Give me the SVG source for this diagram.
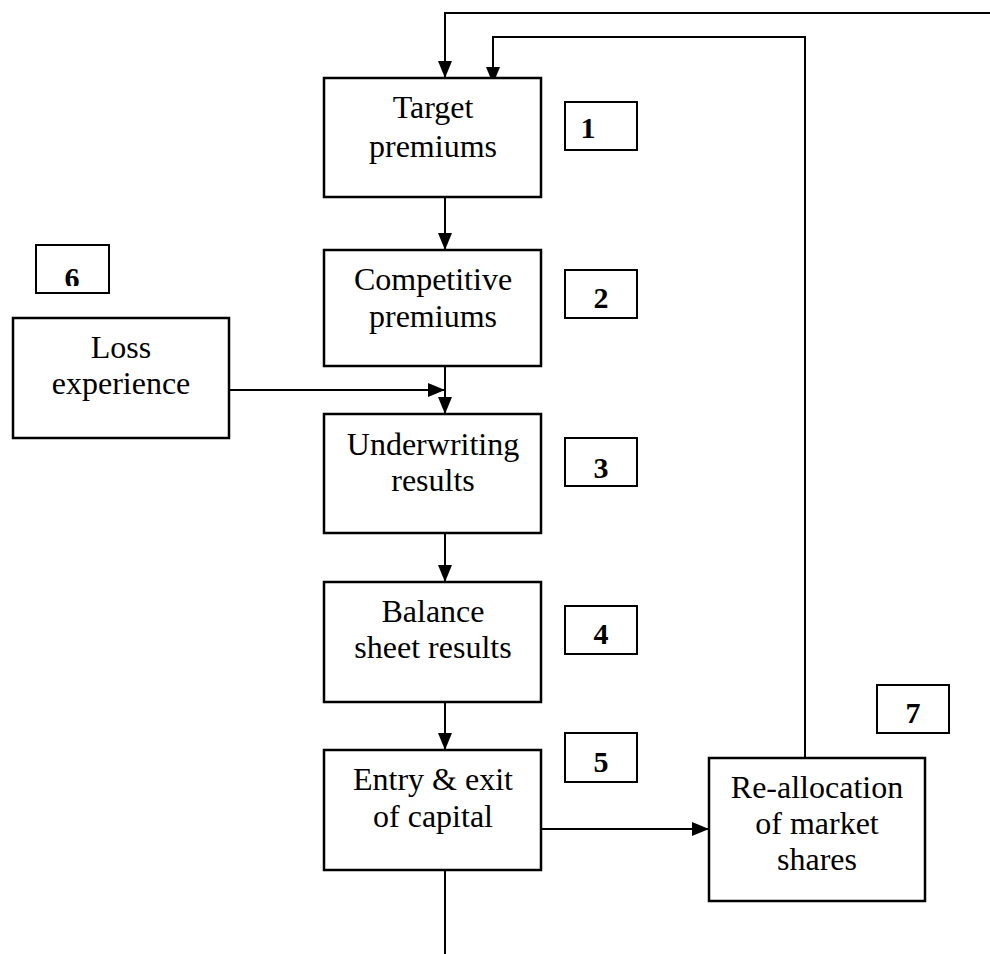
<svg xmlns="http://www.w3.org/2000/svg" width="990" height="954" viewBox="0 0 990 954">
<style>
.box{fill:#fff;stroke:#000;stroke-width:2.5}
.nbox{fill:#fff;stroke:#000;stroke-width:2}
.t{font-family:"Liberation Serif","Times New Roman",serif;font-size:32px;text-anchor:middle;fill:#000}
.n{font-family:"Liberation Serif","Times New Roman",serif;font-size:30px;font-weight:bold;text-anchor:middle;fill:#000}
.ln{fill:none;stroke:#000;stroke-width:2}
</style>
<defs>
<marker id="arr" markerUnits="userSpaceOnUse" markerWidth="17" markerHeight="15" refX="17" refY="7" orient="auto">
<path d="M0,0 L17,7 L0,14 z" fill="#000"/>
</marker>
<clipPath id="c3"><rect x="560" y="430" width="80" height="48"/></clipPath>
<clipPath id="c5"><rect x="560" y="725" width="80" height="47"/></clipPath>
<clipPath id="c6"><rect x="30" y="240" width="85" height="46"/></clipPath>
</defs>
<rect width="990" height="954" fill="#fff"/>
<g id="connectors">
<path class="ln" d="M445,197 V250" marker-end="url(#arr)"/>
<path class="ln" d="M445,366 V414" marker-end="url(#arr)"/>
<path class="ln" d="M229,390 H445" marker-end="url(#arr)"/>
<path class="ln" d="M445,533 V582" marker-end="url(#arr)"/>
<path class="ln" d="M445,702 V750" marker-end="url(#arr)"/>
<path class="ln" d="M541,829 H709" marker-end="url(#arr)"/>
<path class="ln" d="M805,758 V37 H493 V84" marker-end="url(#arr)"/>
<path class="ln" d="M990,13 H445 V78" marker-end="url(#arr)"/>
<path class="ln" d="M445,870 V954"/>
</g>
<g id="n-target">
<rect class="box" x="324" y="78" width="217" height="119"/>
<text class="t" x="433" y="118">Target</text>
<text class="t" x="433" y="157">premiums</text>
</g>
<g id="n-competitive">
<rect class="box" x="324" y="250" width="217" height="116"/>
<text class="t" x="433" y="290">Competitive</text>
<text class="t" x="433" y="327">premiums</text>
</g>
<g id="n-loss">
<rect class="box" x="13" y="318" width="216" height="120"/>
<text class="t" x="121" y="358">Loss</text>
<text class="t" x="121" y="394">experience</text>
</g>
<g id="n-underwriting">
<rect class="box" x="324" y="414" width="217" height="119"/>
<text class="t" x="433" y="455">Underwriting</text>
<text class="t" x="433" y="491">results</text>
</g>
<g id="n-balance">
<rect class="box" x="324" y="582" width="217" height="120"/>
<text class="t" x="433" y="622">Balance</text>
<text class="t" x="433" y="658">sheet results</text>
</g>
<g id="n-entry">
<rect class="box" x="324" y="750" width="217" height="120"/>
<text class="t" x="433" y="790">Entry &amp; exit</text>
<text class="t" x="433" y="827">of capital</text>
</g>
<g id="n-realloc">
<rect class="box" x="709" y="758" width="216" height="143"/>
<text class="t" x="817" y="798">Re-allocation</text>
<text class="t" x="817" y="834">of market</text>
<text class="t" x="817" y="870">shares</text>
</g>
<g id="label-1">
<rect class="nbox" x="565" y="102" width="72" height="48"/>
<text class="n" x="588" y="138">1</text>
</g>
<g id="label-2">
<rect class="nbox" x="565" y="270" width="72" height="48"/>
<text class="n" x="601" y="308">2</text>
</g>
<g id="label-3">
<rect class="nbox" x="565" y="438" width="72" height="48"/>
<text class="n" x="601" y="478" clip-path="url(#c3)">3</text>
</g>
<g id="label-4">
<rect class="nbox" x="565" y="606" width="72" height="48"/>
<text class="n" x="601" y="644">4</text>
</g>
<g id="label-5">
<rect class="nbox" x="565" y="733" width="72" height="49"/>
<text class="n" x="601" y="772" clip-path="url(#c5)">5</text>
</g>
<g id="label-6">
<rect class="nbox" x="36" y="245" width="73" height="48"/>
<text class="n" x="72" y="288" clip-path="url(#c6)">6</text>
</g>
<g id="label-7">
<rect class="nbox" x="877" y="685" width="72" height="48"/>
<text class="n" x="913" y="723">7</text>
</g>
</svg>
